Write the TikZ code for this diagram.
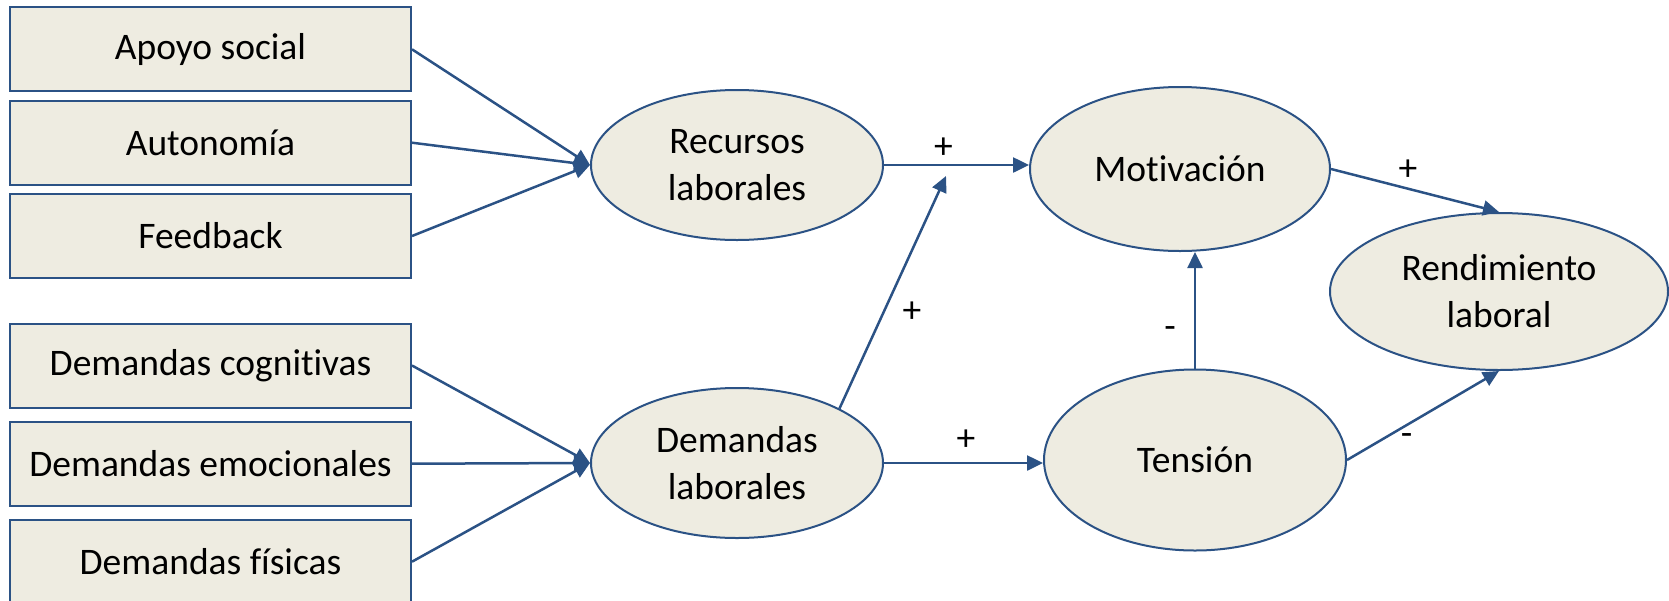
\documentclass[tikz,border=0pt]{standalone}
\usepackage{fontspec}
\setmainfont[Ligatures=NoCommon]{Carlito}
\usetikzlibrary{shapes.geometric,arrows.meta}
\definecolor{fillc}{HTML}{EEECE1}
\definecolor{linec}{HTML}{2B5285}
\begin{document}
\begin{tikzpicture}[x=1pt,y=-1pt,
 every node/.style={font=\fontsize{37.5}{47}\selectfont},
 box/.style={draw=linec,line width=2pt,fill=fillc,minimum width=401pt,minimum height=84pt,inner sep=0pt},
 ell/.style={ellipse,draw=linec,line width=2pt,fill=fillc,inner sep=0pt,align=center},
 arr/.style={draw=linec,line width=2.5pt,-{Triangle[length=16pt,width=15pt]}},
 lbl/.style={inner sep=0pt}]
\useasboundingbox (0,0) rectangle (1669,600);
\clip (0,0) rectangle (1669,600);
% boxes
\node[box] (b1) at (210.5,49.3) {Apoyo social};
\node[box] (b2) at (210.5,142.7) {Autonomía};
\node[box] (b3) at (210.5,236) {Feedback};
\node[box] (b4) at (210.5,365.5) {Demandas cognitivas};
\node[box] (b5) at (210.5,463.7) {Demandas emocionales};
\node[box] (b6) at (210.5,561.7) {Demandas físicas};
% ellipses
\node[ell,minimum width=292pt,minimum height=150pt] (rl) at (737,165) {Recursos\\laborales};
\node[ell,minimum width=292pt,minimum height=150pt] (dl) at (737,463) {Demandas\\laborales};
\node[ell,minimum width=300pt,minimum height=164pt] (mot) at (1180,169) {Motivación};
\node[ell,minimum width=302pt,minimum height=181pt] (ten) at (1195,460) {Tensión};
\node[ell,minimum width=338pt,minimum height=157pt] (ren) at (1499,291.5) {Rendimiento\\laboral};
% arrows
\draw[arr] (b1.east) -- (rl.west);
\draw[arr] (b2.east) -- (rl.west);
\draw[arr] (b3.east) -- (rl.west);
\draw[arr] (b4.east) -- (dl.west);
\draw[arr] (b5.east) -- (dl.west);
\draw[arr] (b6.east) -- (dl.west);
\draw[arr] (rl.east) -- (rl.east -| mot.west);
\draw[arr] (dl.east) -- (dl.east -| ten.west);
\coordinate (tipA) at (946,176);
\draw[arr] (dl.28) -- (tipA);
\draw[arr] (ten.north) -- (ten.north |- mot.south);
\draw[arr] (mot.east) -- (ren.north);
\draw[arr] (ten.east) -- (ren.south);
% labels
\node[lbl] (l1) at (943.5,148) {+};
\node[lbl] (l2) at (912,312) {+};
\node[lbl] (l3) at (1170,333) {-};
\node[lbl] (l4) at (1408,170) {+};
\node[lbl] (l5) at (1406.6,440) {-};
\node[lbl] (l6) at (966,440) {+};
\end{tikzpicture}
\end{document}
